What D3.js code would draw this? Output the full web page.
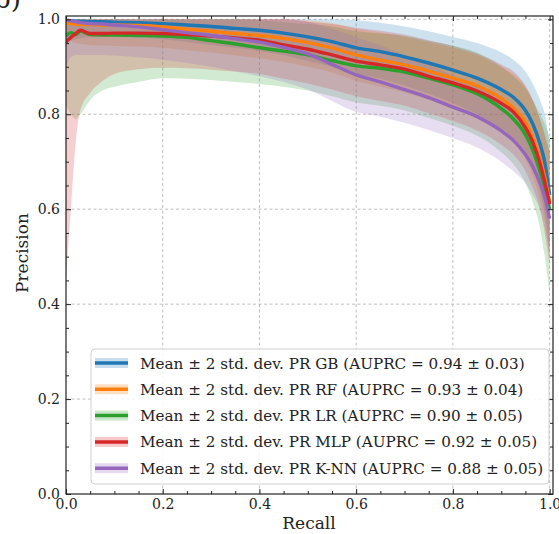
<!DOCTYPE html>
<html><head><meta charset="utf-8">
<script src="https://cdn.jsdelivr.net/npm/d3@7"></script>
<style>body{margin:0;background:#fff} svg{display:block} text{font-family:"DejaVu Serif",serif;fill:#222}</style>
</head><body><svg id="c" width="559" height="534"></svg>
<script>
const recall = [0,0.01,0.02,0.03,0.05,0.075,0.1,0.15,0.2,0.25,0.3,0.35,0.4,0.45,0.5,0.55,0.6,0.65,0.7,0.75,0.8,0.85,0.9,0.925,0.95,0.965,0.98,0.99,1.0];

const gbMean = [0.997,0.997,0.996,0.996,0.995,0.995,0.994,0.993,0.991,0.988,0.985,0.981,0.977,0.971,0.963,0.953,0.940,0.932,0.921,0.908,0.893,0.876,0.852,0.836,0.808,0.780,0.738,0.698,0.630];
const gbLow  = [0.950,0.955,0.958,0.960,0.962,0.963,0.963,0.962,0.958,0.952,0.946,0.940,0.933,0.925,0.912,0.900,0.885,0.875,0.860,0.843,0.823,0.800,0.770,0.750,0.720,0.685,0.640,0.590,0.520];
const gbHigh = [1,1,1,1,1,1,1,1,1,1,1,1,1,1,1,1,0.998,0.993,0.985,0.975,0.963,0.950,0.930,0.915,0.890,0.865,0.830,0.800,0.740];

const rfMean = [0.992,0.991,0.990,0.989,0.989,0.988,0.988,0.987,0.984,0.979,0.975,0.970,0.966,0.960,0.951,0.940,0.925,0.914,0.904,0.891,0.876,0.860,0.833,0.813,0.783,0.750,0.707,0.667,0.615];
const rfLow  = [0.965,0.955,0.950,0.948,0.946,0.945,0.944,0.943,0.940,0.935,0.930,0.924,0.918,0.910,0.900,0.888,0.870,0.858,0.846,0.830,0.813,0.793,0.762,0.740,0.706,0.670,0.620,0.575,0.500];
const rfHigh = [1,1,1,1,1,1,1,1,1,1,1,1,1,1,0.998,0.992,0.980,0.972,0.964,0.952,0.940,0.925,0.900,0.885,0.860,0.830,0.790,0.760,0.720];

const lrMean = [0.965,0.972,0.968,0.975,0.968,0.967,0.967,0.966,0.965,0.962,0.955,0.948,0.940,0.933,0.925,0.913,0.902,0.897,0.889,0.876,0.862,0.843,0.812,0.790,0.757,0.725,0.680,0.645,0.600];
const lrLow  = [0.820,0.800,0.790,0.800,0.830,0.850,0.858,0.868,0.876,0.875,0.872,0.868,0.864,0.858,0.850,0.838,0.825,0.818,0.808,0.792,0.776,0.755,0.720,0.695,0.655,0.615,0.560,0.500,0.420];
const lrHigh = [1,1,1,1,1,1,1,1,1,1,1,1,0.998,0.994,0.990,0.985,0.975,0.970,0.965,0.955,0.945,0.930,0.900,0.880,0.855,0.830,0.800,0.780,0.750];

const mlpMean = [0.952,0.962,0.970,0.977,0.970,0.970,0.971,0.971,0.970,0.968,0.965,0.961,0.956,0.946,0.937,0.925,0.912,0.904,0.895,0.880,0.866,0.849,0.823,0.805,0.772,0.742,0.697,0.657,0.610];
const mlpLow  = [0.450,0.600,0.740,0.810,0.845,0.870,0.885,0.895,0.898,0.897,0.894,0.890,0.885,0.875,0.865,0.852,0.838,0.828,0.818,0.802,0.786,0.766,0.736,0.715,0.680,0.645,0.600,0.550,0.480];
const mlpHigh = [1,1,1,1,1,1,1,1,1,1,1,1,1,1,0.995,0.990,0.982,0.976,0.968,0.956,0.944,0.928,0.905,0.890,0.860,0.830,0.790,0.755,0.720];

const knnMean = [0.998,0.997,0.995,0.993,0.991,0.990,0.988,0.984,0.978,0.972,0.966,0.959,0.952,0.941,0.927,0.905,0.883,0.868,0.852,0.835,0.815,0.795,0.765,0.745,0.715,0.690,0.655,0.625,0.580];
const knnLow  = [0.900,0.920,0.925,0.925,0.925,0.925,0.924,0.920,0.915,0.908,0.900,0.890,0.880,0.868,0.852,0.828,0.805,0.795,0.782,0.767,0.750,0.730,0.700,0.680,0.655,0.630,0.600,0.560,0.500];
const knnHigh = [1,1,1,1,1,1,1,1,1,1,1,1,1,1,0.995,0.980,0.962,0.945,0.925,0.905,0.882,0.860,0.830,0.810,0.775,0.750,0.710,0.690,0.660];

const models = ["GB","RF","LR","MLP","K-NN"];
const auprc = ["0.94 ± 0.03","0.93 ± 0.04","0.90 ± 0.05","0.92 ± 0.05","0.88 ± 0.05"];
const colors = ["#1f77b4","#ff7f0e","#2ca02c","#d62728","#9467bd"];
const means = [gbMean, rfMean, lrMean, mlpMean, knnMean];
const lows = [gbLow, rfLow, lrLow, mlpLow, knnLow];
const highs = [gbHigh, rfHigh, lrHigh, mlpHigh, knnHigh];
const majorTicks = [0,0.2,0.4,0.6,0.8,1.0];
const minorTicks = [0.05,0.1,0.15,0.25,0.3,0.35,0.45,0.5,0.55,0.65,0.7,0.75,0.85,0.9,0.95];

const svg = d3.select('#c');
const x = d3.scaleLinear().domain([0,1.007]).range([66,553]);
const y = d3.scaleLinear().domain([0,1.007]).range([494,16]);

svg.append('defs').append('clipPath').attr('id','clip')
  .append('rect').attr('x',66).attr('y',16).attr('width',487).attr('height',478);

// grid
const grid = svg.append('g').attr('stroke','#b8b8b8').attr('stroke-width',0.9).attr('stroke-dasharray','3,2.5');
grid.selectAll('.gx').data(majorTicks.slice(1)).join('line')
  .attr('x1',d=>x(d)).attr('x2',d=>x(d)).attr('y1',y(0)).attr('y2',y(1.007));
grid.selectAll('.gy').data(majorTicks.slice(1)).join('line')
  .attr('y1',d=>y(d)).attr('y2',d=>y(d)).attr('x1',x(0)).attr('x2',x(1.007));

const plot = svg.append('g').attr('clip-path','url(#clip)');
const area = d3.area().x((d,i)=>x(recall[i])).y0((d,i)=>y(d[0])).y1((d,i)=>y(d[1])).curve(d3.curveMonotoneX);
const line = d3.line().x((d,i)=>x(recall[i])).y(d=>y(d)).curve(d3.curveMonotoneX);

models.forEach((m,k)=>{
  const band = lows[k].map((v,i)=>[v, highs[k][i]]);
  plot.append('path').attr('d',area(band)).attr('fill',colors[k]).attr('fill-opacity',0.22);
});
models.forEach((m,k)=>{
  plot.append('path').attr('d',line(means[k])).attr('fill','none').attr('stroke',colors[k]).attr('stroke-width',3.4);
});

// axes
const fmt = d3.format('.1f');
function styleAxis(g){ g.select('.domain').remove(); g.selectAll('line').attr('stroke','#222'); g.selectAll('text').attr('font-size',14).attr('font-family','DejaVu Serif').attr('fill','#222'); }
svg.append('g').attr('transform','translate(0,494)').call(d3.axisBottom(x).tickValues(majorTicks).tickSizeInner(-5).tickSizeOuter(0).tickPadding(5).tickFormat(fmt)).call(styleAxis);
svg.append('g').attr('transform','translate(0,494)').call(d3.axisBottom(x).tickValues(minorTicks).tickSizeInner(-3).tickSizeOuter(0).tickFormat('')).call(styleAxis);
svg.append('g').attr('transform','translate(66,0)').call(d3.axisLeft(y).tickValues(majorTicks).tickSizeInner(-5).tickSizeOuter(0).tickPadding(6).tickFormat(fmt)).call(styleAxis);
svg.append('g').attr('transform','translate(66,0)').call(d3.axisLeft(y).tickValues(minorTicks).tickSizeInner(-3).tickSizeOuter(0).tickFormat('')).call(styleAxis);
svg.append('g').attr('transform','translate(0,16)').call(d3.axisTop(x).tickValues(majorTicks).tickSizeInner(-5).tickSizeOuter(0).tickFormat('')).call(styleAxis);
svg.append('g').attr('transform','translate(0,16)').call(d3.axisTop(x).tickValues(minorTicks).tickSizeInner(-3).tickSizeOuter(0).tickFormat('')).call(styleAxis);
svg.append('g').attr('transform','translate(553,0)').call(d3.axisRight(y).tickValues(majorTicks).tickSizeInner(-5).tickSizeOuter(0).tickFormat('')).call(styleAxis);
svg.append('g').attr('transform','translate(553,0)').call(d3.axisRight(y).tickValues(minorTicks).tickSizeInner(-3).tickSizeOuter(0).tickFormat('')).call(styleAxis);

svg.append('rect').attr('x',66).attr('y',16).attr('width',487).attr('height',478)
  .attr('fill','none').attr('stroke','#222').attr('stroke-width',1.2);

// axis labels
svg.append('text').attr('x',309).attr('y',529).attr('text-anchor','middle').attr('font-size',17).text('Recall');
svg.append('text').attr('transform','translate(28,253) rotate(-90)').attr('text-anchor','middle').attr('font-size',17).text('Precision');

// cropped panel label (cut off at the top edge, as in the reference)
svg.append('text').attr('x',-6).attr('y',8).attr('font-family','Open Sans, sans-serif').attr('font-size',26).attr('fill','#111').text('b)');

// legend
const lg = svg.append('g');
lg.append('rect').attr('x',91).attr('y',349).attr('width',458).attr('height',135).attr('rx',4)
  .attr('fill','#fff').attr('fill-opacity',0.85).attr('stroke','#d0d0d0');
models.forEach((m,k)=>{
  const cy = 363 + k*26.3;
  lg.append('rect').attr('x',95).attr('y',cy-5).attr('width',33).attr('height',10).attr('fill',colors[k]).attr('fill-opacity',0.25);
  lg.append('line').attr('x1',95).attr('x2',128).attr('y1',cy).attr('y2',cy).attr('stroke',colors[k]).attr('stroke-width',3.5);
  lg.append('text').attr('x',140).attr('y',cy+5.5).attr('font-size',15.2).text(`Mean ± 2 std. dev. PR ${m} (AUPRC = ${auprc[k]})`);
});
</script></body></html>
